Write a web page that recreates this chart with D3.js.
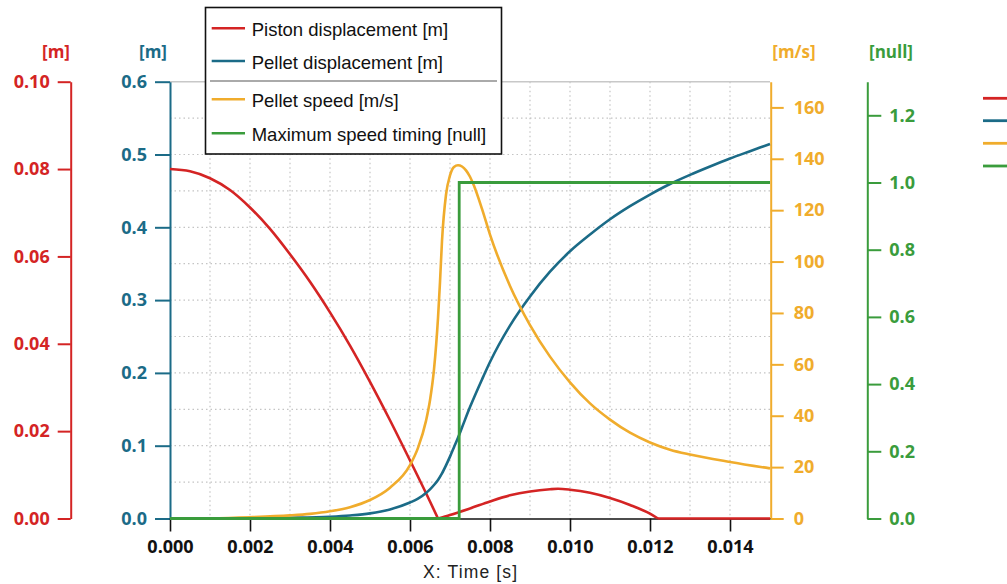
<!DOCTYPE html>
<html>
<head>
<meta charset="utf-8">
<script src="https://cdn.jsdelivr.net/npm/d3@7"></script>
<style>
  html, body { margin: 0; padding: 0; background: #fff; }
  svg { display: block; }
</style>
</head>
<body>
<svg id="chart" width="1007" height="584"></svg>
<script>
// ---------------- DATA ----------------
const seriesNames = ["Piston displacement [m]", "Pellet displacement [m]", "Pellet speed [m/s]", "Maximum speed timing [null]"];
const axisTitles = ["[m]", "[m]", "[m/s]", "[null]"];
const xTitle = "X: Time [s]";

const pistonT = [0, 0.0005, 0.001, 0.0015, 0.002, 0.0025, 0.003, 0.0035, 0.004, 0.0045, 0.005, 0.0055, 0.006, 0.0065, 0.0067,
                 0.0070, 0.0075, 0.008, 0.0085, 0.009, 0.0095, 0.0097, 0.010, 0.0105, 0.011, 0.0115, 0.012, 0.0122, 0.0135, 0.015];
const pistonV = [0.0800, 0.0795, 0.0779, 0.0752, 0.0712, 0.0663, 0.0605, 0.0542, 0.0472, 0.0396, 0.0313, 0.0225, 0.0133, 0.0039, 0.0000,
                 0.0008, 0.0023, 0.0039, 0.0053, 0.0062, 0.0067, 0.0068, 0.0066, 0.0059, 0.0047, 0.0031, 0.0011, 0.0000, 0.0000, 0.0000];

const pelletT = [0, 0.001, 0.002, 0.003, 0.004, 0.0045, 0.005, 0.0055, 0.006, 0.0062, 0.0064, 0.0065, 0.0066, 0.0067, 0.0068,
                 0.0069, 0.0070, 0.0071, 0.0072, 0.0073, 0.0075, 0.0078, 0.008, 0.0085, 0.009, 0.0095, 0.010, 0.0105, 0.011,
                 0.0115, 0.012, 0.0125, 0.013, 0.0135, 0.014, 0.0145, 0.015];
const pelletV = [0, 0, 0.0003, 0.001, 0.0025, 0.0042, 0.007, 0.0125, 0.022, 0.0272, 0.035, 0.040, 0.046, 0.053, 0.062,
                 0.073, 0.085, 0.098, 0.111, 0.125, 0.153, 0.191, 0.215, 0.265, 0.305, 0.339, 0.367, 0.390, 0.411,
                 0.429, 0.445, 0.4595, 0.472, 0.4835, 0.4945, 0.5045, 0.5145];

const speedT = [0, 0.001, 0.002, 0.003, 0.0035, 0.004, 0.0045, 0.005, 0.0055, 0.006, 0.0062, 0.0064, 0.0065, 0.0066, 0.0067,
                0.00675, 0.0068, 0.0069, 0.0070, 0.0071, 0.0072, 0.0073, 0.0074, 0.0075, 0.0076, 0.0078, 0.008, 0.0085, 0.009,
                0.0095, 0.010, 0.0105, 0.011, 0.0115, 0.012, 0.0125, 0.013, 0.014, 0.015];
const speedV = [0, 0.1, 0.5, 1.2, 1.8, 2.8, 4.4, 7.2, 12.0, 20.8, 27.5, 38, 46, 58, 78,
                92, 108, 126, 133.5, 136.8, 137.5, 137.0, 135.5, 133, 129.5, 120.5, 110.5, 90.5, 75.3,
                63, 53, 44.8, 38.5, 33.4, 29.6, 26.8, 24.9, 22.0, 19.5];

const timingT = [0, 0.00723, 0.015];
const timingV = [0, 1, 1];

// tick values
const xMajorTicks = [0, 0.002, 0.004, 0.006, 0.008, 0.010, 0.012, 0.014];
const xMinorTicks = [0.001, 0.003, 0.005, 0.007, 0.009, 0.011, 0.013, 0.015];
const redMajor = [0, 0.02, 0.04, 0.06, 0.08, 0.10];
const redMinor = [0.01, 0.03, 0.05, 0.07, 0.09];
const blueMajor = [0, 0.1, 0.2, 0.3, 0.4, 0.5, 0.6];
const blueMinor = [0.05, 0.15, 0.25, 0.35, 0.45, 0.55];
const orangeMajor = [0, 20, 40, 60, 80, 100, 120, 140, 160];
const orangeMinor = [10, 30, 50, 70, 90, 110, 130, 150, 170];
const greenMajor = [0, 0.2, 0.4, 0.6, 0.8, 1.0, 1.2];
const greenMinor = [0.1, 0.3, 0.5, 0.7, 0.9, 1.1, 1.3];
const hGrid = [0.05, 0.1, 0.15, 0.2, 0.25, 0.3, 0.35, 0.4, 0.45, 0.5, 0.55];
const vGrid = [0.001, 0.002, 0.003, 0.004, 0.005, 0.006, 0.007, 0.008, 0.009, 0.010, 0.011, 0.012, 0.013, 0.014];

// ---------------- STYLE ----------------
const C = { red: "#d42424", blue: "#1b6b87", orange: "#f0ac2c", green: "#3a9c3c" };
const L = 170, R = 770, TOP = 81.7, BOT = 518.5;
const tickFont = "'Open Sans', 'Noto Sans', sans-serif";
const textFont = "'Liberation Sans', Arial, sans-serif";

const svg = d3.select("#chart");

const x = d3.scaleLinear().domain([0, 0.015]).range([L, R]);
const yRed = d3.scaleLinear().domain([0, 0.1]).range([BOT, TOP]);
const yBlue = d3.scaleLinear().domain([0, 0.6]).range([BOT, TOP]);
const yOrange = d3.scaleLinear().domain([0, 170]).range([BOT, TOP]);
const yGreen = d3.scaleLinear().domain([0, 1.3]).range([BOT, TOP]);

// grid
const grid = svg.append("g");
grid.selectAll("line.h").data(hGrid).join("line")
  .attr("x1", L).attr("x2", R).attr("y1", d => yBlue(d)).attr("y2", d => yBlue(d))
  .attr("stroke", "#c4c4c4").attr("stroke-width", 1.2).attr("stroke-dasharray", "1.5,3");
grid.selectAll("line.v").data(vGrid).join("line")
  .attr("y1", TOP).attr("y2", BOT).attr("x1", d => x(d)).attr("x2", d => x(d))
  .attr("stroke", "#c4c4c4").attr("stroke-width", 1.2).attr("stroke-dasharray", "1.5,3");
svg.append("line").attr("x1", L).attr("x2", R).attr("y1", TOP).attr("y2", TOP)
  .attr("stroke", "#c8c8c8").attr("stroke-width", 1.5);

// helper to draw a y axis with major + minor ticks
function drawAxis(gen, scale, xpos, major, minor, fmt, color, sizeMajor, sizeMinor, pad) {
  const g = svg.append("g").attr("transform", `translate(${xpos},0)`);
  g.call(gen(scale).tickValues(minor).tickSize(sizeMinor).tickSizeOuter(0).tickFormat(""));
  g.call(gen(scale).tickValues(major).tickSize(sizeMajor).tickSizeOuter(0).tickPadding(pad).tickFormat(d3.format(fmt)));
  g.selectAll("path.domain").attr("stroke", color).attr("stroke-width", 2);
  g.selectAll(".tick line").attr("stroke", color).attr("stroke-width", 2);
  g.selectAll(".tick text").attr("fill", color).attr("font-family", tickFont)
    .attr("font-weight", "bold").attr("font-size", 18);
  return g;
}

drawAxis(d3.axisLeft, yRed, 70.7, redMajor, redMinor, ".2f", C.red, 13, 6, 8);
drawAxis(d3.axisLeft, yBlue, L, blueMajor, blueMinor, ".1f", C.blue, 15, 8, 8);
drawAxis(d3.axisRight, yOrange, 770.7, orangeMajor, orangeMinor, "d", C.orange, 13, 6, 10);
drawAxis(d3.axisRight, yGreen, 867.3, greenMajor, greenMinor, ".1f", C.green, 14, 7, 8);

// axis titles
const titlePos = [[56, C.red], [153, C.blue], [794, C.orange], [891, C.green]];
titlePos.forEach((p, i) => {
  svg.append("text").attr("x", p[0]).attr("y", 58).attr("text-anchor", "middle")
    .attr("fill", p[1]).attr("font-family", tickFont).attr("font-weight", "bold")
    .attr("font-size", 17).text(axisTitles[i]);
});

// x axis
const gx = svg.append("g").attr("transform", `translate(0,${BOT})`);
gx.call(d3.axisBottom(x).tickValues(xMinorTicks).tickSize(8).tickSizeOuter(0).tickFormat(""));
gx.call(d3.axisBottom(x).tickValues(xMajorTicks).tickSize(13).tickSizeOuter(0).tickPadding(8.5).tickFormat(d3.format(".3f")));
gx.selectAll("path.domain").attr("stroke", "#111").attr("stroke-width", 1.6);
gx.selectAll(".tick line").attr("stroke", "#111").attr("stroke-width", 1.6);
gx.selectAll(".tick text").attr("fill", "#111").attr("font-family", tickFont)
  .attr("font-weight", "bold").attr("font-size", 18);

svg.append("text").attr("x", 470).attr("y", 578).attr("text-anchor", "middle")
  .attr("font-family", textFont).attr("font-size", 17.5)
  .attr("fill", "#222").attr("textLength", 94).attr("lengthAdjust", "spacing").text(xTitle);

// curves
const plot = svg.append("g");
function zipTV(t, v) { return t.map((tt, i) => [tt, v[i]]); }

// piston: split into smooth segments at the zero kinks
const pistonPts = zipTV(pistonT, pistonV);
const segs = [];
let cur = [];
pistonPts.forEach((p, i) => {
  cur.push(p);
  const isKink = p[1] === 0 && i > 0 && i < pistonPts.length - 1 &&
    (pistonPts[i - 1][1] !== 0 || pistonPts[i + 1][1] !== 0);
  if (isKink) { segs.push(cur); cur = [p]; }
});
if (cur.length > 1) segs.push(cur);
const lineRed = d3.line().x(d => x(d[0])).y(d => yRed(d[1])).curve(d3.curveMonotoneX);
segs.forEach(s => plot.append("path").attr("d", lineRed(s)).attr("fill", "none")
  .attr("stroke", C.red).attr("stroke-width", 2.6).attr("stroke-linejoin", "round"));

plot.append("path").attr("d", d3.line().x(d => x(d[0])).y(d => yBlue(d[1])).curve(d3.curveMonotoneX)(zipTV(pelletT, pelletV)))
  .attr("fill", "none").attr("stroke", C.blue).attr("stroke-width", 2.6);

plot.append("path").attr("d", d3.line().x(d => x(d[0])).y(d => yOrange(d[1])).curve(d3.curveMonotoneX)(zipTV(speedT, speedV)))
  .attr("fill", "none").attr("stroke", C.orange).attr("stroke-width", 2.6);

plot.append("path").attr("d", d3.line().x(d => x(d[0])).y(d => yGreen(d[1])).curve(d3.curveStepAfter)(zipTV(timingT, timingV)))
  .attr("fill", "none").attr("stroke", C.green).attr("stroke-width", 2.8);

// legend box
const colors = [C.red, C.blue, C.orange, C.green];
const lg = svg.append("g");
lg.append("rect").attr("x", 205.5).attr("y", 7.5).attr("width", 296).attr("height", 146.5)
  .attr("fill", "#fff").attr("stroke", "#111").attr("stroke-width", 1.6);
lg.append("line").attr("x1", 210).attr("x2", 497).attr("y1", 81).attr("y2", 81)
  .attr("stroke", "#aaa").attr("stroke-width", 2);
const rowsY = [28.3, 61, 99.3, 133.3];
seriesNames.forEach((n, i) => {
  lg.append("line").attr("x1", 211.7).attr("x2", 245).attr("y1", rowsY[i]).attr("y2", rowsY[i])
    .attr("stroke", colors[i]).attr("stroke-width", 2.6);
  lg.append("text").attr("x", 251.7).attr("y", rowsY[i] + 7.5)
    .attr("font-family", textFont).attr("font-size", 18.5)
    .attr("fill", "#111").text(n);
});

// clipped right-side legend markers
const rightY = [98.3, 120.7, 143.3, 166];
rightY.forEach((yy, i) => {
  svg.append("line").attr("x1", 983).attr("x2", 1008).attr("y1", yy).attr("y2", yy)
    .attr("stroke", colors[i]).attr("stroke-width", 2.8);
});
</script>
</body>
</html>
